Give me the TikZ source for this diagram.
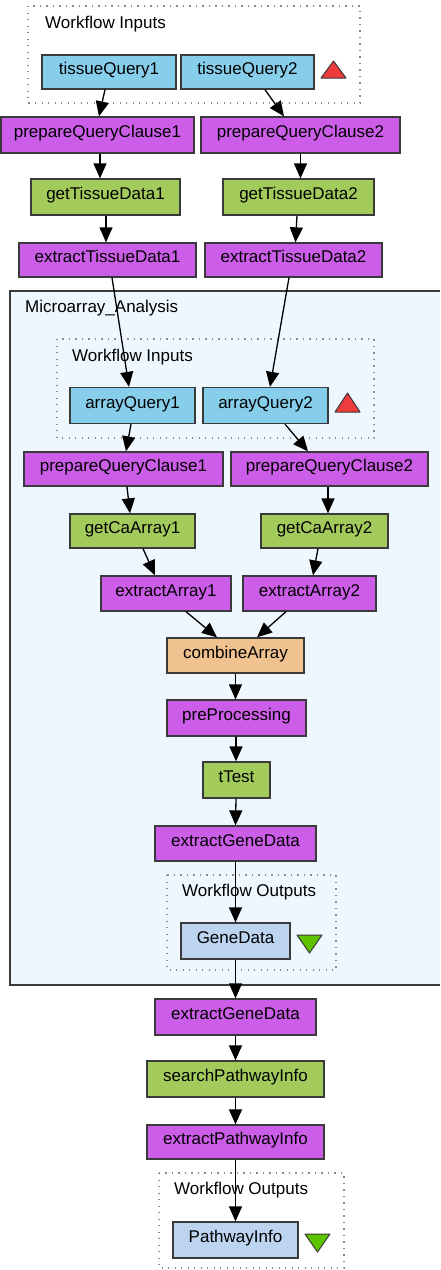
\documentclass[tikz,border=0pt]{standalone}
\usepackage{fontspec}
\setmainfont{Liberation Sans}
\usetikzlibrary{arrows.meta}
\definecolor{inblue}{HTML}{87CEEB}
\definecolor{procpurple}{HTML}{CC5DE8}
\definecolor{procgreen}{HTML}{A2CB5B}
\definecolor{procorange}{HTML}{EFC28F}
\definecolor{outblue}{HTML}{BCD4F0}
\definecolor{panelfill}{HTML}{EEF6FE}
\definecolor{edgegray}{HTML}{3A3A3A}
\definecolor{dotgray}{HTML}{8A8A8A}
\definecolor{trired}{HTML}{EE3B3B}
\definecolor{trigreen}{HTML}{5EC400}
\tikzset{
  box/.style={draw=edgegray, line width=1.3pt, rectangle, inner sep=0pt,
    font=\fontsize{17}{19}\selectfont, text height=0.75em, text depth=0.22em},
  inbox/.style={box, fill=inblue},
  pbox/.style={box, fill=procpurple},
  gbox/.style={box, fill=procgreen},
  obox/.style={box, fill=procorange},
  outbox/.style={box, fill=outblue},
  group/.style={draw=dotgray, line width=1.3pt, dash pattern=on 1.3pt off 5.2pt},
  grouplabel/.style={anchor=west, inner sep=0pt, font=\fontsize{17}{19}\selectfont},
  flow/.style={draw=black, line width=1.3pt, -{Triangle[length=15pt,width=13pt]}},
  tri/.style={draw=edgegray, line width=1pt, line join=round},
}
\begin{document}
\begin{tikzpicture}[x=1pt, y=-1pt]
\useasboundingbox (0,0) rectangle (440,1270);
\fill[white] (0,0) rectangle (440,1270);

% nested analysis panel (open on the right, it runs off the edge)
\fill[panelfill] (10,291) rectangle (440,985);
\draw[draw=edgegray, line width=1.3pt] (440,291) -- (10,291) -- (10,985) -- (440,985);
\node[grouplabel] (malabel) at (25,308) {Microarray\_Analysis};

% dotted groups
\draw[group] (28,6) rectangle (360,103);
\node[grouplabel] (inlabel) at (45,24) {Workflow Inputs};
\draw[group] (57,339) rectangle (374,438);
\node[grouplabel] (inlabel2) at (72,357) {Workflow Inputs};
\draw[group] (167,875) rectangle (336,970);
\node[grouplabel] (outlabel) at (182,892) {Workflow Outputs};
\draw[group] (159,1173) rectangle (344,1268);
\node[grouplabel] (outlabel2) at (174,1190) {Workflow Outputs};

% top-level inputs and tissue branch
\node[inbox, minimum width=134pt, minimum height=34pt] (tq1) at (109,72) {tissueQuery1};
\node[inbox, minimum width=133pt, minimum height=34pt] (tq2) at (247.5,72) {tissueQuery2};
\node[pbox, minimum width=193pt, minimum height=36pt] (pq1) at (97.5,135) {prepareQueryClause1};
\node[pbox, minimum width=199pt, minimum height=36pt] (pq2) at (300.5,135) {prepareQueryClause2};
\node[gbox, minimum width=149pt, minimum height=36pt] (gt1) at (105.5,197) {getTissueData1};
\node[gbox, minimum width=151pt, minimum height=36pt] (gt2) at (298.5,197) {getTissueData2};
\node[pbox, minimum width=177pt, minimum height=34pt] (et1) at (107.5,260) {extractTissueData1};
\node[pbox, minimum width=177pt, minimum height=34pt] (et2) at (293.5,260) {extractTissueData2};

% inside the analysis panel
\node[inbox, minimum width=125pt, minimum height=36pt] (aq1) at (132.5,405.5) {arrayQuery1};
\node[inbox, minimum width=125pt, minimum height=36pt] (aq2) at (265.5,405.5) {arrayQuery2};
\node[pbox, minimum width=199pt, minimum height=34pt] (ipq1) at (123.5,469) {prepareQueryClause1};
\node[pbox, minimum width=197pt, minimum height=34pt] (ipq2) at (329.5,469) {prepareQueryClause2};
\node[gbox, minimum width=125pt, minimum height=34pt] (gc1) at (132.5,531) {getCaArray1};
\node[gbox, minimum width=127pt, minimum height=34pt] (gc2) at (324.5,531) {getCaArray2};
\node[pbox, minimum width=130pt, minimum height=35pt] (ea1) at (166,593.5) {extractArray1};
\node[pbox, minimum width=133pt, minimum height=35pt] (ea2) at (309.5,593.5) {extractArray2};
\node[obox, minimum width=137pt, minimum height=35pt] (ca) at (235.5,655.5) {combineArray};
\node[pbox, minimum width=139pt, minimum height=36pt] (pp) at (236.5,718) {preProcessing};
\node[gbox, minimum width=67pt, minimum height=36pt] (tt) at (236.5,780) {tTest};
\node[pbox, minimum width=161pt, minimum height=35pt] (eg) at (235.5,843.5) {extractGeneData};
\node[outbox, minimum width=109pt, minimum height=36pt] (gd) at (235.5,941) {GeneData};

% pathway stage
\node[pbox, minimum width=161pt, minimum height=36pt] (eg2) at (235.5,1017) {extractGeneData};
\node[gbox, minimum width=177pt, minimum height=36pt] (sp) at (235.5,1079) {searchPathwayInfo};
\node[pbox, minimum width=177pt, minimum height=34pt] (ep) at (235.5,1142) {extractPathwayInfo};
\node[outbox, minimum width=125pt, minimum height=36pt] (pi) at (235.5,1240) {PathwayInfo};

% port markers
\filldraw[tri, fill=trired] (321,78) -- (346,78) -- (333.5,61) -- cycle;
\filldraw[tri, fill=trired] (335,412) -- (360,412) -- (347.5,393) -- cycle;
\filldraw[tri, fill=trigreen] (297,935) -- (322,935) -- (309.5,953) -- cycle;
\filldraw[tri, fill=trigreen] (305,1234) -- (330,1234) -- (317.5,1252) -- cycle;

% connectors
\draw[flow] ([xshift=-4pt]tq1.south) -- ([xshift=1.5pt]pq1.north);
\draw[flow] ([xshift=17.5pt]tq2.south) -- ([xshift=-16.5pt]pq2.north);
\draw[flow] ([xshift=2.5pt]pq1.south) -- ([xshift=-5.5pt]gt1.north);
\draw[flow] (pq2.south) -- ([xshift=2pt]gt2.north);
\draw[flow] ([xshift=0.5pt]gt1.south) -- ([xshift=-1.5pt]et1.north);
\draw[flow] ([xshift=-1.5pt]gt2.south) -- ([xshift=2pt]et2.north);
\draw[flow] ([xshift=4.5pt]et1.south) -- ([xshift=-3.5pt]aq1.north);
\draw[flow] ([xshift=-4.5pt]et2.south) -- ([xshift=4.5pt]aq2.north);
\draw[flow] ([xshift=-1.5pt]aq1.south) -- ([xshift=2.5pt]ipq1.north);
\draw[flow] ([xshift=19.5pt]aq2.south) -- ([xshift=-21.5pt]ipq2.north);
\draw[flow] ([xshift=3.5pt]ipq1.south) -- ([xshift=-2.5pt]gc1.north);
\draw[flow] ([xshift=-1.5pt]ipq2.south) -- ([xshift=3.5pt]gc2.north);
\draw[flow] ([xshift=10.5pt]gc1.south) -- ([xshift=-11pt]ea1.north);
\draw[flow] ([xshift=-6.5pt]gc2.south) -- ([xshift=3.5pt]ea2.north);
\draw[flow] ([xshift=20pt]ea1.south) -- ([xshift=-18.5pt]ca.north);
\draw[flow] ([xshift=-23.5pt]ea2.south) -- ([xshift=21.5pt]ca.north);
\draw[flow] (ca.south) -- ([xshift=-1pt]pp.north);
\draw[flow] ([xshift=-0.5pt]pp.south) -- ([xshift=-0.5pt]tt.north);
\draw[flow] ([xshift=-0.5pt]tt.south) -- (eg.north);
\draw[flow] (eg.south) -- (gd.north);
\draw[flow] (gd.south) -- (eg2.north);
\draw[flow] (eg2.south) -- (sp.north);
\draw[flow] (sp.south) -- (ep.north);
\draw[flow] (ep.south) -- (pi.north);
\end{tikzpicture}
\end{document}
